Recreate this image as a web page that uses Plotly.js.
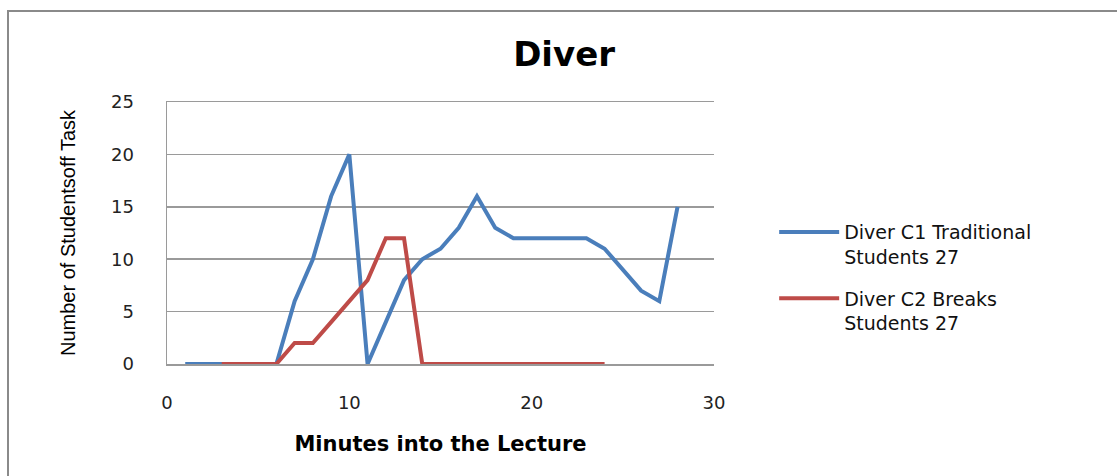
<!DOCTYPE html>
<html>
<head>
<meta charset="utf-8">
<script src="https://cdn.plot.ly/plotly-3.0.1.min.js"></script>
<style>
  html, body { margin: 0; padding: 0; background: #fff; }
  #wrap { position: relative; width: 1117px; height: 476px; overflow: hidden; }
  #chart { width: 1117px; height: 476px; }
  #frame { position: absolute; left: 7px; top: 10px; width: 1130px; height: 500px;
           border: 2px solid #8a8a8a; pointer-events: none; box-sizing: border-box; }
</style>
</head>
<body>
<div id="wrap">
  <div id="chart"></div>
  <div id="frame"></div>
</div>
<script>
// Minutes into the lecture
const minutesC1 = [1, 2, 3, 4, 5, 6, 7, 8, 9, 10, 11, 12, 13, 14, 15, 16, 17, 18, 19, 20, 21, 22, 23, 24, 25, 26, 27, 28];
const valuesC1  = [0, 0, 0, 0, 0, 0, 6, 10, 16, 20, 0, 4, 8, 10, 11, 13, 16, 13, 12, 12, 12, 12, 12, 11, 9, 7, 6, 15];
const minutesC2 = [3, 4, 5, 6, 7, 8, 9, 10, 11, 12, 13, 14, 15, 16, 17, 18, 19, 20, 21, 22, 23, 24];
const valuesC2  = [0, 0, 0, 0, 2, 2, 4, 6, 8, 12, 12, 0, 0, 0, 0, 0, 0, 0, 0, 0, 0, 0];
const nameC1 = "Diver C1 Traditional<br>Students 27";
const nameC2 = "Diver C2 Breaks<br>Students 27";
const chartTitle = "Diver";
const xTitle = "Minutes into the Lecture";
const yTitle = "Number of Studentsoff Task";

const traces = [
  { x: minutesC1, y: valuesC1, name: nameC1, legendgroup: "c1", type: "scatter", mode: "lines",
    line: { color: "#4A7EBB", width: 4 } },
  { x: minutesC2, y: valuesC2, name: nameC2, legendgroup: "c2", type: "scatter", mode: "lines",
    line: { color: "#BE4B48", width: 4 } }
];

const tickFont = { family: "DejaVu Sans, Verdana, sans-serif", size: 18, color: "#222" };

const layout = {
  width: 1117, height: 476,
  margin: { l: 167, r: 403, t: 102, b: 112 },
  paper_bgcolor: "#fff", plot_bgcolor: "#fff",
  showlegend: true,
  title: { text: chartTitle, x: 0.505, xanchor: "center", y: 0.887, yanchor: "middle",
           font: { family: "DejaVu Sans, Verdana, sans-serif", size: 34, color: "#000", weight: "bold" } },
  xaxis: {
    range: [0, 30], dtick: 10, tick0: 0,
    showgrid: false, zeroline: false,
    showline: true, mirror: true, linecolor: "#9a9a9a", linewidth: 1.5,
    layer: "below traces",
    ticks: "", ticklabelstandoff: 22,
    tickfont: tickFont,
    title: { text: xTitle, standoff: 24,
             font: { family: "DejaVu Sans, Verdana, sans-serif", size: 21, color: "#000", weight: "bold" } }
  },
  yaxis: {
    range: [0, 25], dtick: 5, tick0: 0,
    showgrid: true, gridcolor: "#9a9a9a", gridwidth: 1.5,
    zeroline: false, showline: true, linecolor: "#9a9a9a", linewidth: 1.5,
    layer: "below traces",
    ticks: "", ticklabelstandoff: 28,
    tickfont: tickFont,
    title: { text: yTitle, standoff: 30,
             font: { family: "Liberation Sans, Arial, sans-serif", size: 20, color: "#000" } }
  },
  legend: {
    x: 1.11, xanchor: "left", y: 0.33, yanchor: "middle",
    valign: "top", tracegroupgap: 14,
    font: { family: "DejaVu Sans, Verdana, sans-serif", size: 19, color: "#111" },
    bgcolor: "rgba(0,0,0,0)", itemwidth: 60
  }
};

Plotly.newPlot("chart", traces, layout, { displayModeBar: false, staticPlot: true });
</script>
</body>
</html>
